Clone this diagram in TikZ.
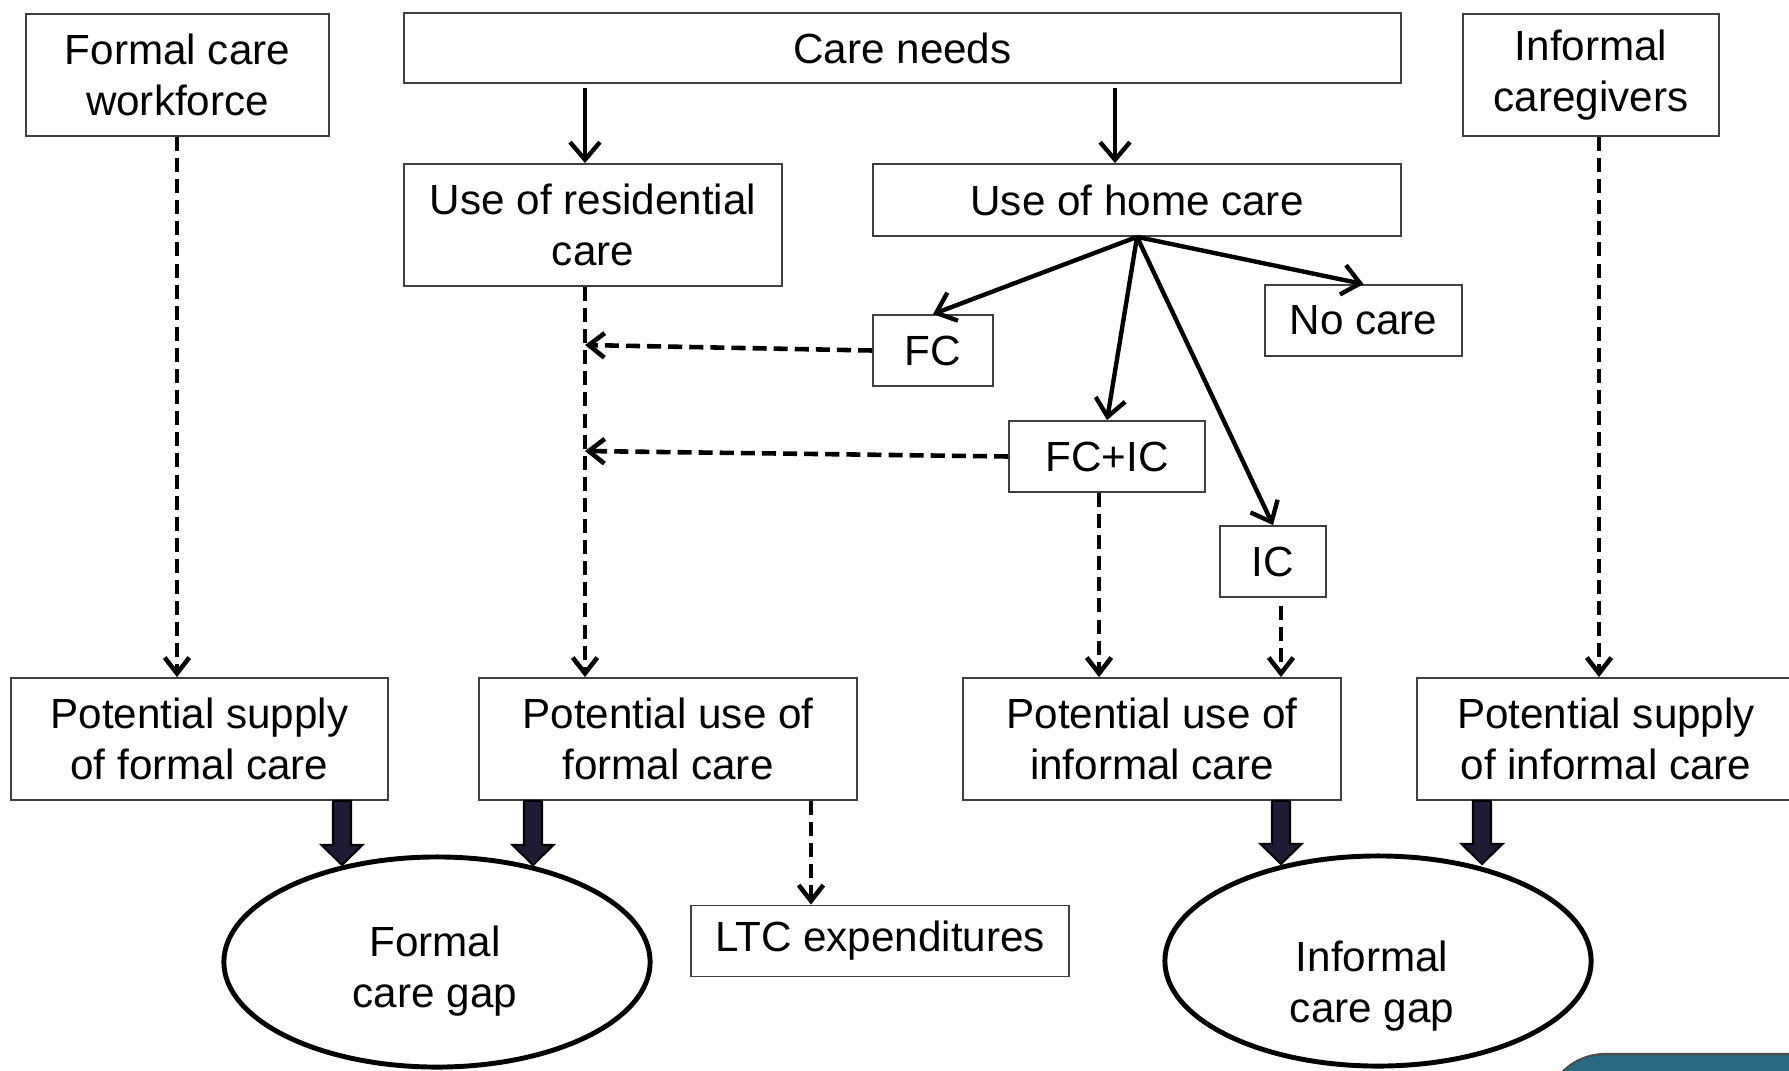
\documentclass[tikz,border=0pt]{standalone}
\usepackage{fontspec}
\setmainfont{Liberation Sans}
\usetikzlibrary{arrows.meta,shapes.geometric,calc}
\definecolor{fatblue}{HTML}{1F1B36}
\definecolor{tealbox}{HTML}{2B6882}
\newcommand\fatarrow[2]{\draw[fat] let \p1=(#1), \p2=(#2) in
  (\x1-2.56pt,\y1) -- (\x1-2.56pt,\y2+5.7pt) -- (\x1-5.83pt,\y2+5.7pt) -- (\x1,\y2)
  -- (\x1+5.83pt,\y2+5.7pt) -- (\x1+2.56pt,\y2+5.7pt) -- (\x1+2.56pt,\y1) -- cycle;}
\begin{document}
\begin{tikzpicture}[x=0.01cm,y=-0.01cm,
  box/.style={draw=black!75,line width=0.5pt,rectangle,inner sep=0pt,align=center,
    font=\fontsize{12pt}{14.3pt}\selectfont},
  txt/.style={inner sep=0pt,align=center,font=\fontsize{12pt}{14.3pt}\selectfont},
  gap/.style={draw=black,line width=1.4pt,ellipse,inner sep=0pt,minimum width=4.26cm,minimum height=2.1cm},
  solidarr/.style={line width=1.25pt,-{Straight Barb[length=5pt,width=8.5pt]}},
  dasharr/.style={line width=1.3pt,dash pattern=on 4pt off 2pt,-{Straight Barb[length=4.5pt,width=7pt]}},
  fat/.style={draw=black,line width=0.6pt,fill=fatblue}
]
\useasboundingbox (0,0) rectangle (1789,1070);
\clip (0,0) rectangle (1789,1070);

% boxes
\node[box,minimum width=3.03cm,minimum height=1.22cm] (fcw) at (177.5,75) {Formal care\\workforce};
\node[box,minimum width=9.97cm,minimum height=0.70cm] (needs) at (902.5,48) {Care needs};
\node[box,minimum width=2.56cm,minimum height=1.22cm] (icg) at (1591,75) {Informal\\caregivers};
\node[box,minimum width=3.78cm,minimum height=1.22cm] (res) at (593,225) {Use of residential\\care};
\node[box,minimum width=5.28cm,minimum height=0.72cm] (home) at (1137,200) {Use of home care};
\node[box,minimum width=1.20cm,minimum height=0.71cm] (fc) at (933,350.5) {FC};
\node[box,minimum width=1.97cm,minimum height=0.71cm] (nocare) at (1363.5,320.5) {No care};
\node[box,minimum width=1.96cm,minimum height=0.71cm] (fcic) at (1107,456.5) {FC+IC};
\node[box,minimum width=1.06cm,minimum height=0.71cm] (ic) at (1273,561.5) {IC};
\node[box,minimum width=3.77cm,minimum height=1.22cm] (psf) at (199.5,739) {Potential supply\\of formal care};
\node[box,minimum width=3.78cm,minimum height=1.22cm] (puf) at (668,739) {Potential use of\\formal care};
\node[box,minimum width=3.78cm,minimum height=1.22cm] (pui) at (1152,739) {Potential use of\\informal care};
\node[box,minimum width=3.78cm,minimum height=1.22cm] (psi) at (1606,739) {Potential supply\\of informal care};
\node[box,minimum width=3.78cm,minimum height=0.71cm] (ltc) at (880,941) {LTC expenditures};

% ellipses
\node[gap] (fgap) at (437,962) {};
\node[txt] (fgapt) at (435,971) {Formal\\care gap};
\node[gap] (igap) at (1378,961) {};
\node[txt] (igapt) at (1372,986) {Informal\\care gap};

% teal corner shape
\draw[draw=black!70,line width=0.6pt,fill=tealbox,rounded corners=0.6cm] (1545,1054) rectangle (1950,1250);

% column coordinates
\coordinate (xa) at (177,0);
\coordinate (xb) at (585,0);
\coordinate (xd) at (1099,0);
\coordinate (xe) at (1281,0);
\coordinate (xf) at (1599,0);
\coordinate (xg) at (811,0);
\coordinate (m1) at (585,345);
\coordinate (m2) at (585,451);
\coordinate (n1) at (585,88);
\coordinate (n2) at (1115,88);

% solid arrows
\draw[solidarr] (n1) -- (res.north -| n1);
\draw[solidarr] (n2) -- (home.north -| n2);
\draw[solidarr] (home.south) -- (fc.north);
\draw[solidarr] (home.south) -- (fcic.north);
\draw[solidarr] (home.south) -- (ic.north);
\draw[solidarr] (home.south) -- (nocare.north);

% dashed arrows
\draw[dasharr] (fcw.south -| xa) -- (psf.north -| xa);
\draw[dasharr] (res.south -| xb) -- (puf.north -| xb);
\draw[dasharr] (fc.west) -- (m1);
\draw[dasharr] (fcic.west) -- (m2);
\draw[dasharr] (fcic.south -| xd) -- (pui.north -| xd);
\draw[dasharr] ($(ic.south -| xe)+(0,8)$) -- (pui.north -| xe);
\draw[dasharr] (icg.south -| xf) -- (psi.north -| xf);
\draw[dasharr] (puf.south -| xg) -- (ltc.north -| xg);

% fat arrows
\coordinate (t1) at (342,865);
\coordinate (t2) at (533,865);
\coordinate (t3) at (1281,864);
\coordinate (t4) at (1482,864);
\fatarrow{psf.south -| t1}{t1}
\fatarrow{puf.south -| t2}{t2}
\fatarrow{pui.south -| t3}{t3}
\fatarrow{psi.south -| t4}{t4}
\end{tikzpicture}
\end{document}
